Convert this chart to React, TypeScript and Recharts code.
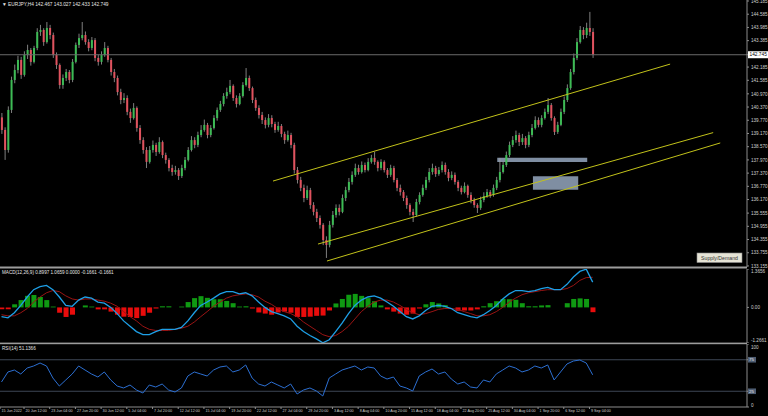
import React from 'react';
import {
  ComposedChart, LineChart, Bar, Line, XAxis, YAxis, ReferenceLine, ReferenceArea, Cell,
} from 'recharts';

// EURJPY H4 (drawn as 8h candles)
const firstOpen = 139.9;
const closes = [
  139.33, 138.42, 140.24, 141.60, 142.05, 142.51, 141.83, 142.73, 142.96, 142.42,
  143.05, 143.78, 143.87, 143.32, 143.96, 143.64, 142.73, 142.28, 141.37, 141.69,
  141.96, 141.60, 142.42, 143.19, 143.50, 143.64, 143.32, 143.05, 143.41, 142.60,
  142.42, 142.73, 143.05, 142.51, 141.96, 141.69, 141.05, 140.69, 140.78, 140.15,
  139.87, 140.33, 139.42, 138.87, 138.42, 137.88, 138.42, 138.65, 138.33, 138.78,
  138.19, 137.97, 137.60, 137.42, 137.51, 137.24, 137.60, 137.97, 138.42, 138.87,
  138.65, 139.10, 139.33, 139.56, 139.10, 139.42, 139.87, 140.24, 140.51, 140.87,
  141.05, 141.33, 140.78, 140.51, 140.87, 141.37, 141.69, 141.23, 140.69, 140.33,
  140.01, 139.78, 139.56, 139.87, 139.60, 139.33, 139.51, 139.15, 138.87, 139.10,
  138.65, 137.51, 137.06, 136.70, 136.24, 136.60, 135.92, 135.61, 135.33, 135.02,
  134.33, 134.11, 135.02, 135.47, 135.79, 135.61, 136.24, 136.60, 136.97, 137.29,
  137.60, 137.42, 137.74, 137.51, 137.88, 138.06, 137.88, 137.60, 137.88, 137.51,
  137.29, 137.60, 137.06, 136.70, 136.51, 136.24, 135.92, 135.61, 135.47, 136.06,
  136.38, 136.70, 137.06, 137.42, 137.60, 137.33, 137.51, 137.74, 137.42, 137.15,
  137.29, 136.97, 136.70, 136.51, 136.79, 136.38, 136.15, 135.92, 135.79, 136.15,
  136.33, 136.51, 136.38, 136.70, 137.06, 137.42, 137.74, 138.19, 138.65, 138.87,
  139.10, 138.78, 138.96, 138.65, 139.10, 139.42, 139.78, 139.56, 139.87, 140.15,
  140.46, 139.87, 139.24, 139.56, 140.15, 140.69, 141.23, 141.96, 142.60, 143.32,
  143.87, 143.64, 143.96, 143.78, 142.75,
];
const highs = [
  140.10, 139.45, 140.40, 141.75, 142.30, 142.70, 142.65, 142.90, 143.20, 143.05,
  143.15, 143.95, 144.10, 143.95, 144.23, 144.10, 143.75, 142.85, 142.35, 141.85,
  142.10, 142.05, 142.55, 143.30, 143.70, 144.23, 143.80, 143.45, 143.55, 143.50,
  142.75, 142.90, 143.32, 143.15, 142.60, 142.10, 141.80, 141.20, 141.00, 140.90,
  140.30, 140.55, 140.40, 139.55, 139.00, 138.55, 138.60, 138.85, 138.75, 139.00,
  138.85, 138.30, 138.05, 137.75, 137.70, 137.60, 137.75, 138.10, 138.55, 139.05,
  139.00, 139.25, 139.55, 139.80, 139.65, 139.55, 140.00, 140.35, 140.65, 141.00,
  141.25, 141.60, 141.40, 140.90, 141.00, 141.50, 142.14, 141.80, 141.30, 140.80,
  140.45, 140.15, 139.90, 140.05, 140.00, 139.70, 139.70, 139.60, 139.25, 139.30,
  139.20, 138.75, 137.65, 137.20, 136.85, 136.80, 136.70, 136.05, 135.75, 135.45,
  135.10, 134.50, 135.20, 135.65, 135.95, 135.95, 136.40, 136.75, 137.15, 137.45,
  137.80, 137.75, 137.90, 137.85, 138.05, 138.20, 138.33, 137.95, 138.00, 137.95,
  137.60, 137.75, 137.70, 137.15, 136.85, 136.60, 136.35, 136.00, 135.75, 136.20,
  136.50, 136.85, 137.20, 137.60, 137.80, 137.70, 137.65, 137.90, 137.85, 137.55,
  137.45, 137.40, 137.05, 136.80, 136.95, 136.85, 136.50, 136.25, 136.00, 136.30,
  136.50, 136.65, 136.60, 136.85, 137.20, 138.06, 137.90, 138.35, 138.80, 139.05,
  139.30, 139.20, 139.15, 139.05, 139.25, 139.60, 139.95, 139.90, 140.00, 140.30,
  140.78, 140.55, 139.95, 139.70, 140.30, 140.85, 141.40, 142.10, 142.80, 143.50,
  144.05, 144.00, 144.20, 144.69, 143.95,
];
const lows = [
  139.15, 137.97, 138.30, 140.10, 141.45, 141.90, 141.65, 141.75, 142.55, 142.25,
  142.35, 142.95, 143.60, 143.15, 143.25, 143.45, 142.60, 142.10, 141.20, 141.20,
  141.55, 141.45, 141.50, 142.35, 143.05, 143.40, 143.20, 142.90, 142.95, 142.45,
  142.25, 142.30, 142.65, 142.40, 141.80, 141.50, 140.90, 140.50, 140.55, 140.00,
  139.65, 139.80, 139.25, 138.70, 138.25, 137.60, 137.80, 138.30, 138.15, 138.25,
  138.05, 137.80, 137.45, 137.25, 137.30, 137.06, 137.15, 137.50, 137.90, 138.35,
  138.50, 138.55, 139.00, 139.25, 138.95, 139.00, 139.35, 139.75, 140.15, 140.40,
  140.75, 140.95, 140.65, 140.35, 140.45, 140.80, 141.30, 141.10, 140.55, 140.20,
  139.85, 139.60, 139.40, 139.45, 139.45, 139.20, 139.25, 139.00, 138.70, 138.80,
  138.50, 137.35, 136.90, 136.55, 136.05, 136.15, 135.75, 135.45, 135.15, 134.85,
  134.10, 133.52, 134.00, 134.90, 135.35, 135.45, 135.55, 136.10, 136.50, 136.85,
  137.20, 137.30, 137.35, 137.40, 137.45, 137.80, 137.75, 137.45, 137.50, 137.40,
  137.15, 137.20, 136.95, 136.55, 136.35, 136.10, 135.75, 135.45, 135.15, 135.40,
  135.95, 136.30, 136.60, 136.95, 137.30, 137.20, 137.25, 137.40, 137.30, 137.00,
  137.05, 136.85, 136.55, 136.40, 136.45, 136.25, 136.00, 135.80, 135.56, 135.70,
  136.05, 136.25, 136.25, 136.30, 136.60, 136.95, 137.35, 137.65, 138.10, 138.55,
  138.75, 138.60, 138.65, 138.50, 138.55, 139.00, 139.35, 139.45, 139.45, 139.80,
  140.05, 139.75, 139.10, 139.15, 139.50, 140.05, 140.60, 141.15, 141.85, 142.50,
  143.25, 143.45, 143.50, 143.60, 142.60,
];

const priceTicks = [
  145.185, 144.585, 143.985, 143.385, 142.745, 142.185, 141.585, 140.970, 140.370, 139.770,
  139.170, 138.570, 137.970, 137.370, 136.770, 136.170, 135.555, 134.955, 134.355, 133.755, 133.155,
];
const lastPrice = 142.745;

const timeLabels = [
  '15 Jun 2022', '20 Jun 12:00', '23 Jun 04:00', '27 Jun 20:00', '30 Jun 12:00', '5 Jul 04:00',
  '7 Jul 20:00', '12 Jul 12:00', '15 Jul 04:00', '19 Jul 20:00', '22 Jul 12:00', '27 Jul 04:00',
  '29 Jul 20:00', '3 Aug 12:00', '8 Aug 04:00', '10 Aug 20:00', '15 Aug 12:00', '18 Aug 04:00',
  '22 Aug 20:00', '25 Aug 12:00', '30 Aug 04:00', '1 Sep 20:00', '6 Sep 12:00', '9 Sep 04:00',
];

// one value every two candles
const macdMain = [
  -0.33, -0.37, -0.19, 0.07, 0.37, 0.63, 0.74, 0.78, 0.63, 0.37,
  0.07, 0.04, 0.26, 0.37, 0.33, 0.19, 0.15, 0.00, -0.22, -0.48,
  -0.67, -0.86, -0.97, -0.97, -0.86, -0.78, -0.78, -0.78, -0.71, -0.48,
  -0.19, 0.07, 0.19, 0.33, 0.48, 0.56, 0.56, 0.48, 0.52, 0.41,
  0.19, 0.00, -0.15, -0.22, -0.30, -0.41, -0.67, -0.86, -1.00, -1.12,
  -1.26, -1.15, -0.86, -0.56, -0.22, 0.07, 0.26, 0.37, 0.41, 0.33,
  0.19, 0.04, -0.15, -0.33, -0.41, -0.30, -0.11, 0.04, 0.07, 0.04,
  -0.04, -0.19, -0.26, -0.33, -0.37, -0.26, -0.11, 0.07, 0.30, 0.48,
  0.60, 0.60, 0.56, 0.60, 0.67, 0.71, 0.63, 0.63, 0.82, 1.08,
  1.28, 1.36, 0.90,
];
const macdSignal = [
  -0.26, -0.30, -0.30, -0.19, -0.04, 0.19, 0.37, 0.52, 0.60, 0.56,
  0.41, 0.30, 0.26, 0.30, 0.30, 0.26, 0.22, 0.15, 0.04, -0.15,
  -0.33, -0.48, -0.67, -0.78, -0.82, -0.82, -0.82, -0.78, -0.74, -0.67,
  -0.52, -0.33, -0.15, 0.04, 0.19, 0.33, 0.41, 0.45, 0.48, 0.45,
  0.37, 0.22, 0.11, -0.04, -0.15, -0.22, -0.33, -0.52, -0.67, -0.82,
  -0.97, -1.04, -1.00, -0.86, -0.67, -0.41, -0.15, 0.04, 0.19, 0.26,
  0.26, 0.19, 0.07, -0.07, -0.19, -0.26, -0.22, -0.15, -0.07, -0.04,
  -0.04, -0.07, -0.15, -0.22, -0.30, -0.30, -0.26, -0.15, 0.00, 0.19,
  0.33, 0.45, 0.52, 0.56, 0.60, 0.63, 0.63, 0.63, 0.67, 0.78,
  0.96, 1.06, 1.07,
];
const macdHist = [
  -0.07, -0.07, 0.11, 0.26, 0.41, 0.44, 0.37, 0.26, 0.03, -0.19,
  -0.34, -0.26, 0.00, 0.07, 0.03, -0.07, -0.07, -0.15, -0.26, -0.33,
  -0.34, -0.38, -0.30, -0.19, -0.04, 0.04, 0.04, 0.00, 0.03, 0.19,
  0.33, 0.40, 0.34, 0.29, 0.29, 0.23, 0.15, 0.03, 0.04, -0.04,
  -0.18, -0.22, -0.26, -0.18, -0.15, -0.19, -0.34, -0.34, -0.33, -0.30,
  -0.29, -0.11, 0.14, 0.30, 0.45, 0.48, 0.41, 0.33, 0.22, 0.07,
  -0.07, -0.15, -0.22, -0.26, -0.22, -0.04, 0.11, 0.19, 0.14, 0.08,
  0.00, -0.12, -0.11, -0.11, -0.07, 0.04, 0.15, 0.22, 0.30, 0.29,
  0.27, 0.15, 0.04, 0.04, 0.07, 0.08, 0.00, 0.00, 0.15, 0.30,
  0.32, 0.30, -0.17,
];
const rsiValues = [
  39.7, 55.6, 58.7, 52.4, 61.9, 65.1, 69.8, 65.1, 46.0, 33.3,
  42.9, 52.4, 65.1, 58.7, 52.4, 47.6, 55.6, 42.9, 33.3, 30.2,
  34.9, 27.0, 22.2, 34.9, 31.7, 36.5, 27.0, 23.8, 30.2, 49.2,
  55.6, 52.4, 49.2, 58.7, 63.5, 65.1, 55.6, 58.7, 66.7, 46.0,
  36.5, 33.3, 39.7, 34.9, 30.2, 36.5, 20.6, 27.0, 30.2, 25.4,
  17.5, 46.0, 52.4, 58.7, 61.9, 65.1, 58.7, 63.5, 61.9, 49.2,
  44.4, 47.6, 33.3, 30.2, 25.4, 49.2, 55.6, 60.3, 52.4, 55.6,
  44.4, 36.5, 39.7, 31.7, 30.2, 42.9, 39.7, 52.4, 58.7, 65.1,
  61.9, 55.6, 58.7, 65.1, 61.9, 66.7, 42.9, 55.6, 68.3, 73.0,
  74.6, 69.8, 51.1,
];

// [bar1, price1, bar2, price2]
const channelLines = [
  [84.5, 137.01, 208.1, 142.32],
  [98.5, 134.15, 221.5, 139.21],
  [101.3, 133.38, 223.7, 138.74],
];
// [bar1, bar2, priceLow, priceHigh]
const zones = [
  [154.3, 182.3, 137.88, 138.07],
  [165.4, 179.5, 136.62, 137.23],
];

const font = "'Liberation Sans', Arial, sans-serif";
const xDomain = [-0.47, 232.03];
const bull = '#3dbb55';
const bear = '#e0525e';
const axisGray = '#8c8c8c';

const candles = closes.map((c, i) => {
  const o = i === 0 ? firstOpen : closes[i - 1];
  return { i, o, c, h: highs[i], l: lows[i], range: [lows[i], highs[i]] };
});
const macdRows = macdMain.map((m, k) => ({ i: k * 2, m, s: macdSignal[k], h: macdHist[k] }));
const rsiRows = rsiValues.map((r, k) => ({ i: k * 2, r }));
const timeTicks = timeLabels.map((_, k) => Math.max(k * 8 - 1, xDomain[0]));

const Candle = (props: any) => {
  const { x, y, width, height, payload } = props;
  if (!payload) return null;
  const { o, c, h, l } = payload;
  const top0 = Math.min(y, y + height);
  const hh = Math.abs(height);
  const cx = x + width / 2;
  const k = hh / (h - l || 1);
  const bTop = top0 + (h - Math.max(o, c)) * k;
  const bBot = top0 + (h - Math.min(o, c)) * k;
  return (
    <g>
      <line x1={cx} x2={cx} y1={top0} y2={top0 + hh} stroke="#a0a0a0" strokeWidth={0.8} />
      <rect x={cx - 1} y={bTop} width={2} height={Math.max(bBot - bTop, 0.8)} fill={c >= o ? bull : bear} />
    </g>
  );
};

const PriceTick = (p: any) => {
  const v = p.payload.value;
  if (v === lastPrice) {
    return (
      <g>
        <rect x={p.x - 3} y={p.y - 3.5} width={21} height={7} fill="#ffffff" />
        <text x={p.x - 1.5} y={p.y + 1.7} fontSize={4.8} fill="#000" fontFamily={font}>{v.toFixed(3)}</text>
      </g>
    );
  }
  return <text x={p.x} y={p.y + 1.7} fontSize={4.6} fill="#cfcfcf" fontFamily={font}>{v.toFixed(3)}</text>;
};

const macdTickText: Record<string, string> = { '1.3656': '1.3656', '0': '0.00', '-1.2661': '-1.2661' };
const MacdTick = (p: any) => {
  const v = p.payload.value;
  const dy = v > 0 ? 4 : v < 0 ? -1 : 1.7;
  return <text x={p.x} y={p.y + dy} fontSize={4.6} fill="#cfcfcf" fontFamily={font}>{macdTickText[String(v)]}</text>;
};

const RsiTick = (p: any) => {
  const v = p.payload.value;
  if (v === 100) return <text x={p.x} y={p.y + 4.5} fontSize={4.6} fill="#cfcfcf" fontFamily={font}>100</text>;
  if (v === 0) return <text x={p.x} y={p.y - 0.5} fontSize={4.6} fill="#cfcfcf" fontFamily={font}>0</text>;
  return (
    <g>
      <rect x={p.x - 3} y={p.y - 2.8} width={8} height={5.6} fill="#4f5e74" />
      <text x={p.x - 2} y={p.y + 1.6} fontSize={4.4} fill="#e8e8e8" fontFamily={font}>{v}</text>
    </g>
  );
};

const TimeTick = (p: any) => {
  const idx = timeTicks.indexOf(p.payload.value);
  return (
    <text x={p.x + 1.5} y={p.y + 2.4} fontSize={3.7} fill="#cfcfcf" fontFamily={font}>{timeLabels[idx]}</text>
  );
};

export default function App() {
  return (
    <div style={{ position: 'fixed', left: 0, top: 0, width: 768, height: 416, background: '#000', overflow: 'hidden' }}>
      <div style={{ position: 'absolute', left: 0, top: 0 }}>
        <ComposedChart width={768} height={268} data={candles} margin={{ top: 0, right: 0, bottom: 1, left: 0 }}>
          <XAxis dataKey="i" type="number" domain={xDomain} hide allowDataOverflow />
          <YAxis
            orientation="right" width={21} domain={[133.108, 145.23]} ticks={priceTicks} interval={0}
            allowDataOverflow tick={<PriceTick />} tickSize={2} tickMargin={2}
            axisLine={{ stroke: axisGray }} tickLine={{ stroke: axisGray }}
          />
          <ReferenceLine y={lastPrice} stroke="#6a6a6a" strokeWidth={1} />
          {zones.map((z, n) => (
            <ReferenceArea key={n} x1={z[0]} x2={z[1]} y1={z[2]} y2={z[3]} fill="#8a9ab0" fillOpacity={0.92} stroke="none" />
          ))}
          <Bar dataKey="range" barSize={2} shape={<Candle />} isAnimationActive={false} />
          {channelLines.map((l, n) => (
            <ReferenceLine
              key={n}
              segment={[{ x: l[0], y: l[1] }, { x: l[2], y: l[3] }]}
              stroke="#c2c21a" strokeWidth={1}
            />
          ))}
        </ComposedChart>
      </div>
      <div style={{ position: 'absolute', left: 0, top: 269 }}>
        <ComposedChart width={768} height={74} data={macdRows} margin={{ top: 0, right: 0, bottom: 0, left: 0 }}>
          <XAxis dataKey="i" type="number" domain={xDomain} hide allowDataOverflow />
          <YAxis
            orientation="right" width={21} domain={[-1.2661, 1.3656]} ticks={[1.3656, 0, -1.2661]} interval={0}
            allowDataOverflow tick={<MacdTick />} tickSize={2} tickMargin={2}
            axisLine={{ stroke: axisGray }} tickLine={{ stroke: axisGray }}
          />
          <Bar dataKey="h" barSize={5} isAnimationActive={false}>
            {macdRows.map((r, n) => <Cell key={n} fill={r.h >= 0 ? '#0f9a12' : '#e80c0c'} />)}
          </Bar>
          <Line dataKey="s" stroke="#9a1414" strokeWidth={1} dot={false} isAnimationActive={false} />
          <Line dataKey="m" stroke="#1e9fe6" strokeWidth={1.3} dot={false} isAnimationActive={false} />
        </ComposedChart>
      </div>
      <div style={{ position: 'absolute', left: 0, top: 344 }}>
        <LineChart width={768} height={72} data={rsiRows} margin={{ top: 0, right: 0, bottom: 0, left: 0 }}>
          <XAxis
            dataKey="i" type="number" domain={xDomain} allowDataOverflow ticks={timeTicks} interval={0}
            height={9} tick={<TimeTick />} tickSize={2} tickMargin={1}
            axisLine={{ stroke: axisGray }} tickLine={{ stroke: axisGray }}
          />
          <YAxis
            orientation="right" width={21} domain={[0, 100]} ticks={[100, 75, 25, 0]} interval={0}
            tick={<RsiTick />} tickSize={2} tickMargin={2}
            axisLine={{ stroke: axisGray }} tickLine={{ stroke: axisGray }}
          />
          <ReferenceLine y={75} stroke="#3e4756" strokeWidth={1} />
          <ReferenceLine y={25} stroke="#3e4756" strokeWidth={1} />
          <Line dataKey="r" stroke="#2c6fd2" strokeWidth={1} dot={false} isAnimationActive={false} />
        </LineChart>
      </div>
      <svg width={768} height={416} style={{ position: 'absolute', left: 0, top: 0, pointerEvents: 'none' }}>
        <rect x={0} y={266.5} width={747} height={2} fill="#9c9c9c" />
        <rect x={0} y={342.6} width={747} height={1.6} fill="#9c9c9c" />
        <text x={2} y={5.5} fontSize={4.8} fill="#e6e6e6" fontFamily={font}>▼ EURJPY,H4  142.467 143.027 142.433 142.749</text>
        <text x={2} y={274} fontSize={4.6} fill="#e6e6e6" fontFamily={font}>MACD(12,26,9) 0.8997 1.0659 0.0000 -0.1661 -0.1661</text>
        <text x={2} y={349.5} fontSize={4.6} fill="#e6e6e6" fontFamily={font}>RSI(14) 51.1366</text>
        <rect x={697} y={253} width={45} height={9.5} fill="#e6e4d6" stroke="#8a8a8a" strokeWidth={0.6} />
        <text x={719.5} y={259.6} fontSize={5.2} fill="#333" textAnchor="middle" fontFamily={font}>Supply/Demand</text>
      </svg>
    </div>
  );
}
